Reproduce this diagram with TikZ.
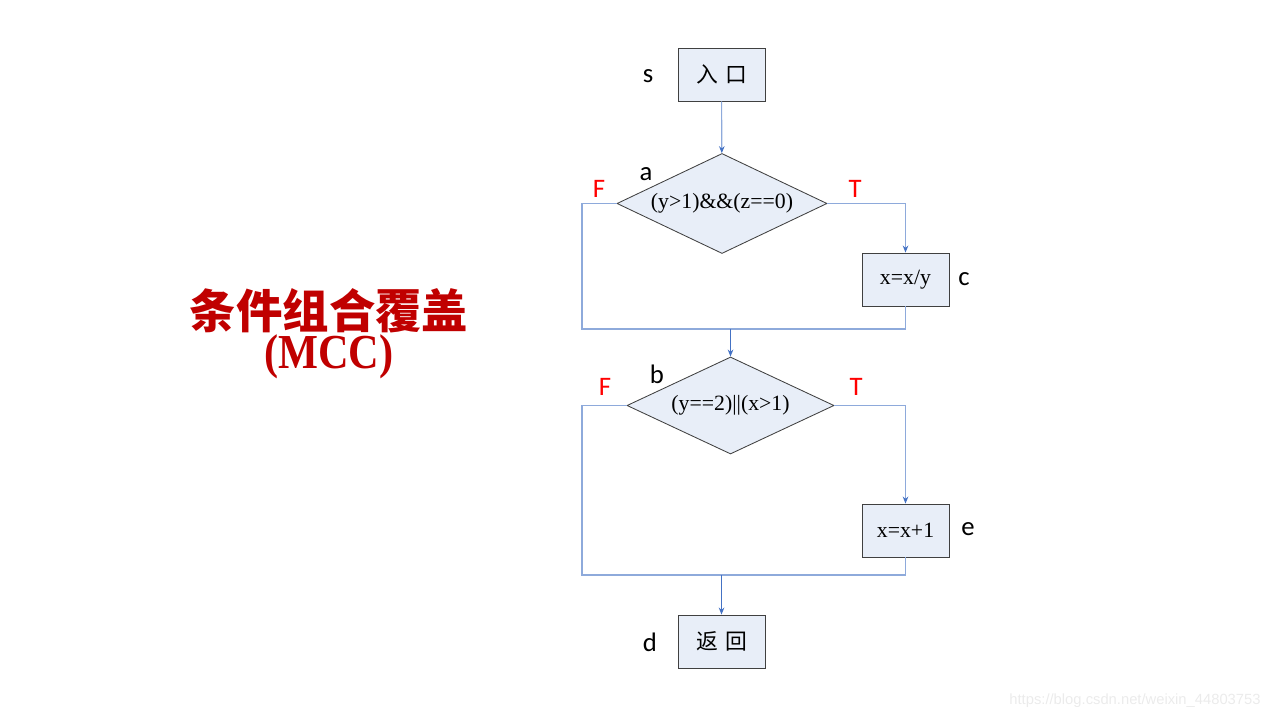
\documentclass[tikz,border=0pt]{standalone}
\usepackage{fontspec}
\setmainfont{Liberation Serif}
\newfontfamily\cjk{Noto Sans CJK SC}
\newfontfamily\labfont{Carlito}
\newfontfamily\wmfont{Liberation Sans}
\usetikzlibrary{arrows.meta,shapes.geometric}
\definecolor{boxfill}{HTML}{E8EEF8}
\definecolor{boxline}{HTML}{404040}
\definecolor{flowblue}{HTML}{4472C4}
\definecolor{branchblue}{HTML}{8EAADB}
\definecolor{titlered}{HTML}{C00000}

\begin{document}
\begin{tikzpicture}[
  x=0.025cm,y=-0.025cm,
  >={Stealth[length=5pt,width=4pt,color=flowblue]},
  proc/.style={draw=boxline,fill=boxfill,line width=0.6pt,minimum width=2.175cm,minimum height=1.325cm,inner sep=0pt,font=\fontsize{15.5}{18}\selectfont},
  cond/.style={diamond,draw=boxline,fill=boxfill,line width=0.6pt,aspect=2.1,inner sep=0pt,font=\fontsize{15.5}{18}\selectfont},
  flow/.style={draw=flowblue,line width=0.8pt},
  branch/.style={draw=branchblue,line width=0.8pt},
  tag/.style={font=\labfont\fontsize{19}{22}\selectfont},
  ft/.style={tag,text=red}
]
\useasboundingbox (0,0) rectangle (1280,720);
% title
\node[text=titlered,font=\cjk\bfseries\fontsize{33}{38}\selectfont] (title) at (329,311) {条件组合覆盖};
\node[text=titlered,font=\bfseries\fontsize{31}{36}\selectfont] (mcc) at (329,357) {\scalebox{0.97}[1.12]{(MCC)}};
% flow chart
\node[proc] (s) at (721.5,74.5) {\cjk 入\hspace{5pt}口};
\node[cond,minimum width=5.25cm,minimum height=2.5cm] (a) at (722,203.5) {(y>1)\&\&(z==0)};
\node[proc] (c) at (905.5,279.5) {x=x/y};
\node[cond,minimum width=5.175cm,minimum height=2.425cm] (b) at (730.5,405.5) {(y==2)||(x>1)};
\node[proc] (e) at (905.5,530.5) {x=x+1};
\node[proc] (d) at (721.5,641.5) {\cjk 返\hspace{5pt}回};
\coordinate (j1) at (730.5,329);
\coordinate (lf1) at (582,329);
\coordinate (j2) at (721.5,575);
\coordinate (lf2) at (582,575);
\draw[branch,->] (s) -- (a);
\draw[branch,->] (a.east) -| (c.north);
\draw[branch] (a.west) -| (lf1) -- (j1);
\draw[branch] (c.south) |- (j1);
\draw[flow,->] (j1) -- (b.north);
\draw[branch,->] (b.east) -| (e.north);
\draw[branch] (b.west) -| (lf2) -- (j2);
\draw[branch] (e.south) |- (j2);
\draw[flow,->] (j2) -- (d.north);
% labels
\node[tag] (sl) at (648,76) {s};
\node[tag] (al) at (646,174) {a};
\node[tag] (cl) at (964,279) {c};
\node[tag] (bl) at (657,374) {b};
\node[tag] (el) at (968,529) {e};
\node[tag] (dl) at (650,642) {d};
\node[ft] (af) at (599,189) {F};
\node[ft] (at) at (855,189) {T};
\node[ft] (bf) at (605,387) {F};
\node[ft] (bt) at (856,387) {T};
\node[text=black!8,font=\wmfont\fontsize{10.5}{12}\selectfont] (wm) at (1135,701) {https://blog.csdn.net/weixin\_44803753};
\end{tikzpicture}
\end{document}
